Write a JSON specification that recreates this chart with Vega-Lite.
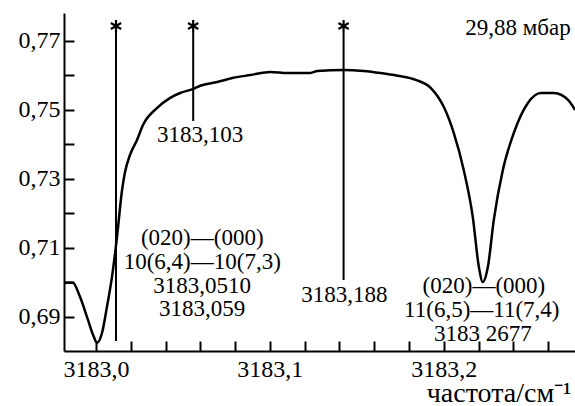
{
  "$schema": "https://vega.github.io/schema/vega-lite/v6.json",
  "width": 511,
  "height": 338,
  "autosize": {"type": "none"},
  "padding": {"left": 64, "top": 13, "right": 0, "bottom": 55},
  "background": "white",
  "config": {
    "view": {"stroke": null},
    "font": "Liberation Serif",
    "text": {"font": "Liberation Serif", "fontSize": 23, "color": "black"},
    "axis": {
      "grid": false,
      "domainColor": "black",
      "domainWidth": 2,
      "tickColor": "black",
      "tickWidth": 2,
      "tickSize": -10,
      "labelColor": "black",
      "labelFont": "Liberation Serif",
      "labelFontSize": 24,
      "titleFont": "Liberation Serif",
      "titleFontSize": 28,
      "titleFontWeight": "normal",
      "titleColor": "black",
      "labelFlush": false,
      "labelOverlap": false
    }
  },
  "datasets": {
    "curve": [
      {"nu": 3182.9816, "a": 0.6999},
      {"nu": 3182.9867, "a": 0.6999},
      {"nu": 3182.9908, "a": 0.6958},
      {"nu": 3182.9954, "a": 0.6891},
      {"nu": 3182.9983, "a": 0.6848},
      {"nu": 3183.0006, "a": 0.6825},
      {"nu": 3183.0035, "a": 0.6854},
      {"nu": 3183.0063, "a": 0.6929},
      {"nu": 3183.0092, "a": 0.7016},
      {"nu": 3183.0121, "a": 0.7132},
      {"nu": 3183.0150, "a": 0.7268},
      {"nu": 3183.0167, "a": 0.7320},
      {"nu": 3183.0196, "a": 0.7370},
      {"nu": 3183.0236, "a": 0.7413},
      {"nu": 3183.0271, "a": 0.7457},
      {"nu": 3183.0352, "a": 0.7506},
      {"nu": 3183.0427, "a": 0.7535},
      {"nu": 3183.0484, "a": 0.7549},
      {"nu": 3183.0559, "a": 0.7561},
      {"nu": 3183.0599, "a": 0.7570},
      {"nu": 3183.0697, "a": 0.7581},
      {"nu": 3183.0790, "a": 0.7593},
      {"nu": 3183.0888, "a": 0.7601},
      {"nu": 3183.1003, "a": 0.7610},
      {"nu": 3183.1101, "a": 0.7607},
      {"nu": 3183.1233, "a": 0.7607},
      {"nu": 3183.1274, "a": 0.7613},
      {"nu": 3183.1424, "a": 0.7616},
      {"nu": 3183.1539, "a": 0.7613},
      {"nu": 3183.1637, "a": 0.7607},
      {"nu": 3183.1735, "a": 0.7599},
      {"nu": 3183.1839, "a": 0.7587},
      {"nu": 3183.1925, "a": 0.7564},
      {"nu": 3183.2000, "a": 0.7509},
      {"nu": 3183.2058, "a": 0.7433},
      {"nu": 3183.2115, "a": 0.7326},
      {"nu": 3183.2167, "a": 0.7190},
      {"nu": 3183.2202, "a": 0.7045},
      {"nu": 3183.2225, "a": 0.7001},
      {"nu": 3183.2254, "a": 0.7045},
      {"nu": 3183.2288, "a": 0.7181},
      {"nu": 3183.2340, "a": 0.7326},
      {"nu": 3183.2403, "a": 0.7433},
      {"nu": 3183.2484, "a": 0.7520},
      {"nu": 3183.2559, "a": 0.7549},
      {"nu": 3183.2634, "a": 0.7549},
      {"nu": 3183.2715, "a": 0.7529},
      {"nu": 3183.2755, "a": 0.7500}
    ],
    "lines": [
      {"nu": 3183.0115, "a": 0.7726, "a2": 0.6830},
      {"nu": 3183.0559, "a": 0.7726, "a2": 0.7468},
      {"nu": 3183.1424, "a": 0.7726, "a2": 0.7007}
    ],
    "labels": [
      {"nu": 3183.0611, "a": 0.7129, "t": "(020)—(000)"},
      {"nu": 3183.0611, "a": 0.7059, "t": "10(6,4)—10(7,3)"},
      {"nu": 3183.0611, "a": 0.6990, "t": "3183,0510"},
      {"nu": 3183.0611, "a": 0.6923, "t": "3183,059"},
      {"nu": 3183.0599, "a": 0.7428, "t": "3183,103"},
      {"nu": 3183.1429, "a": 0.6964, "t": "3183,188"},
      {"nu": 3183.2231, "a": 0.6989, "t": "(020)—(000)"},
      {"nu": 3183.2219, "a": 0.6919, "t": "11(6,5)—11(7,4)"},
      {"nu": 3183.2225, "a": 0.6849, "t": "3183 2677"},
      {"nu": 3183.2427, "a": 0.7738, "t": "29,88 мбар"}
    ]
  },
  "encoding": {
    "x": {
      "field": "nu", "type": "quantitative",
      "scale": {"domain": [3182.9816, 3183.2755], "nice": false, "zero": false},
      "axis": {
        "title": "частота/см⁻¹",
        "titleAlign": "right",
        "titleBaseline": "alphabetic",
        "titleX": 507,
        "titleY": 50,
        "labelPadding": 16,
        "labelOverlap": false,
        "values": [3183.0, 3183.02, 3183.04, 3183.06, 3183.08, 3183.1, 3183.12, 3183.14, 3183.16, 3183.18, 3183.2, 3183.22, 3183.24, 3183.26],
        "labelExpr": "(round(datum.value*50) % 5 == 0) ? replace(format(datum.value, '.1f'), '.', ',') : ''"
      }
    },
    "y": {
      "field": "a", "type": "quantitative",
      "scale": {"domain": [0.6801, 0.7781], "nice": false, "zero": false},
      "axis": {
        "title": null,
        "labelPadding": 14,
        "labelOverlap": false,
        "values": [0.69, 0.70, 0.71, 0.72, 0.73, 0.74, 0.75, 0.76, 0.77],
        "labelExpr": "round(datum.value*100) % 2 == 1 ? replace(format(datum.value, '.2f'), '.', ',') : ''"
      }
    }
  },
  "layer": [
    {
      "data": {"name": "curve"},
      "mark": {"type": "line", "color": "black", "strokeWidth": 2.5, "interpolate": "monotone"},
      "encoding": {}
    },
    {
      "data": {"name": "lines"},
      "mark": {"type": "rule", "color": "black", "strokeWidth": 2},
      "encoding": {
        "y2": {"field": "a2"}
      }
    },
    {
      "data": {"name": "lines"},
      "mark": {
        "type": "point",
        "shape": "M0,-1L0,1M-0.87,-0.5L0.87,0.5M-0.87,0.5L0.87,-0.5",
        "stroke": "black",
        "strokeWidth": 2.2,
        "filled": false,
        "opacity": 1,
        "size": 140,
        "yOffset": -6
      },
      "encoding": {}
    },
    {
      "data": {"name": "labels"},
      "mark": {"type": "text", "align": "center", "baseline": "middle"},
      "encoding": {
        "text": {"field": "t", "type": "nominal"}
      }
    }
  ]
}
